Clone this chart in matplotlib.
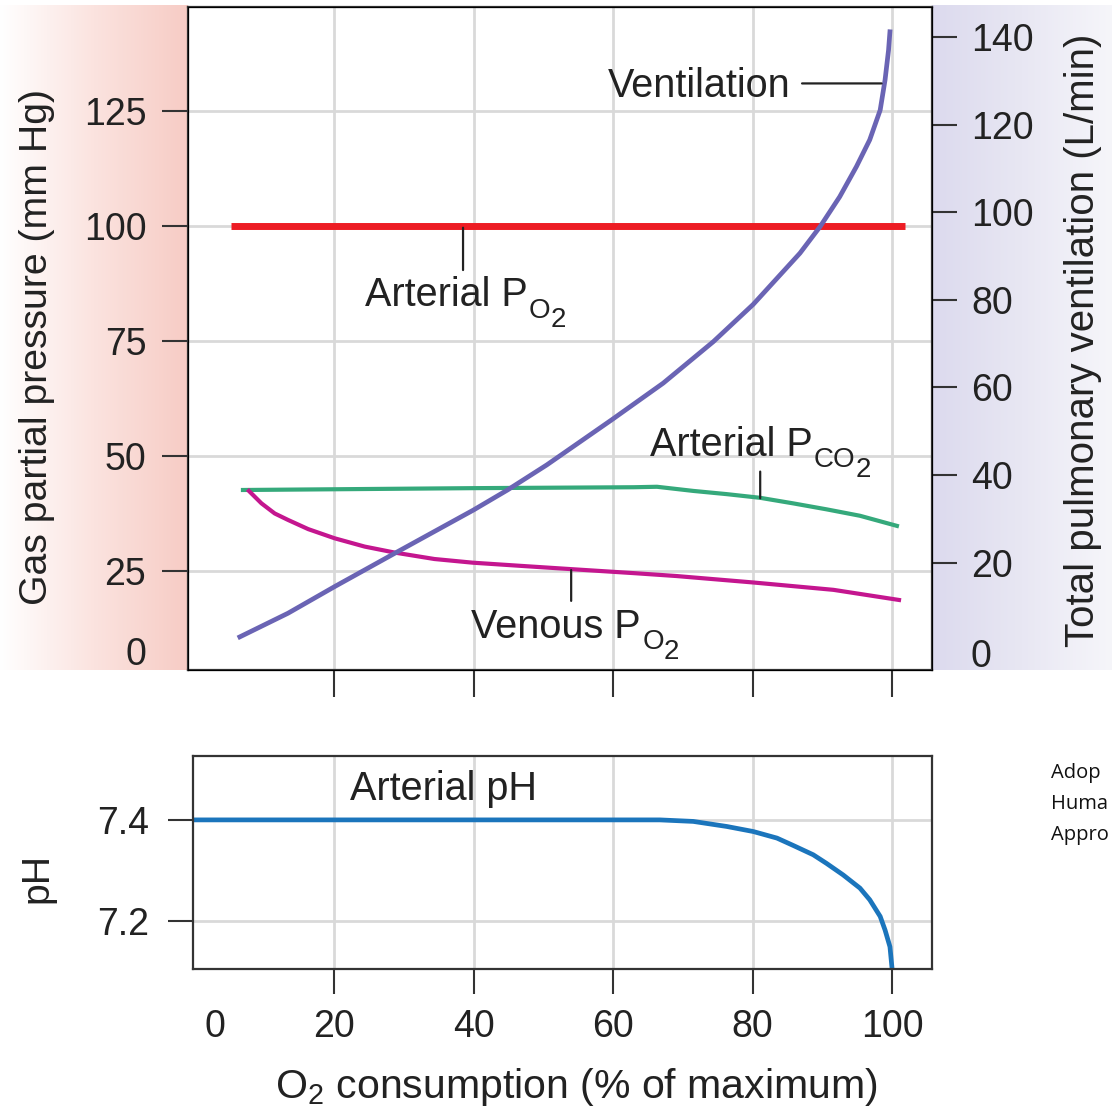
import numpy as np
import matplotlib
matplotlib.use('Agg')
import matplotlib.pyplot as plt
from matplotlib.colors import LinearSegmentedColormap

plt.rcParams['font.family'] = ['Liberation Sans', 'DejaVu Sans']
plt.rcParams['mathtext.fontset'] = 'custom'
plt.rcParams['mathtext.rm'] = 'Liberation Sans'
plt.rcParams['mathtext.it'] = 'Liberation Sans'
plt.rcParams['mathtext.default'] = 'regular'

# values
vent_x = [6.5, 13.4, 20.1, 28.7, 40.0, 44.9, 50.5, 59.8, 67.2, 74.4, 80.1, 86.8,
          89.7, 92.5, 94.9, 96.8, 98.3, 99.0, 99.5, 99.7]
vent_y = [3.0, 8.4, 14.5, 22.1, 32.0, 36.6, 42.3, 52.6, 61.0, 70.5, 79.0, 90.7,
          96.8, 103.6, 110.5, 116.6, 123.4, 130.3, 137.1, 141.3]

apo2_x = [5.3, 101.8]
apo2_y = [100, 100]

pco2_x = [6.95, 40.0, 63.0, 66.3, 71.5, 76.3, 81.1, 85.8, 90.6, 95.4, 100.7]
pco2_y = [42.6, 43.0, 43.2, 43.3, 42.4, 41.7, 40.9, 39.7, 38.4, 37.0, 34.8]

vpo2_x = [7.8, 9.6, 11.5, 13.4, 16.3, 20.1, 24.4, 28.7, 34.4, 39.9, 46.9, 54.0,
          63.3, 69.1, 80.1, 91.6, 101.0]
vpo2_y = [42.4, 39.7, 37.5, 36.1, 34.1, 32.1, 30.3, 29.0, 27.6, 26.8, 26.1, 25.4,
          24.5, 23.9, 22.5, 20.9, 18.7]

ph_x = [0, 20, 40, 60, 66.7, 71.5, 76.3, 80.1, 83.5, 85.9, 88.7, 90.6, 93.0,
        95.4, 96.8, 98.3, 99.0, 99.7, 100.0]
ph_y = [7.4, 7.4, 7.4, 7.4, 7.4, 7.397, 7.387, 7.377, 7.364, 7.349, 7.331, 7.314,
        7.291, 7.265, 7.242, 7.209, 7.182, 7.149, 7.106]

x_ticks = [20, 40, 60, 80, 100]
gas_ticks = [25, 50, 75, 100, 125]
vent_ticks = [20, 40, 60, 80, 100, 120, 140]
ph_ticks = [7.2, 7.4]

W, H = 1112, 1108
fig = plt.figure(figsize=(W / 100, H / 100), dpi=100)

def px_axes(x0, y0, x1, y1):
    return fig.add_axes([x0 / W, 1 - y1 / H, (x1 - x0) / W, (y1 - y0) / H])

# gradient side panels
pink = LinearSegmentedColormap.from_list('pink', ['#ffffff', '#fbe3df', '#f7ccc5'])
lav = LinearSegmentedColormap.from_list('lav', ['#dcdaee', '#e8e7f3', '#f6f6fa'])
bg1 = px_axes(0, 5, 188, 670)
bg1.imshow(np.linspace(0, 1, 256)[None, :], cmap=pink, aspect='auto')
bg1.axis('off')
bg2 = px_axes(932, 5, W, 670)
bg2.imshow(np.linspace(0, 1, 256)[None, :], cmap=lav, aspect='auto')
bg2.axis('off')

dark = '#333333'
txt = '#222222'
grid_c = '#d9d9d9'
tick_fs = 27
ann_fs = 28.5
sub_fs = 20

def sub_label(ax, x, y, main, sub, subsub):
    # "P" with subscript gas name and a further lowered "2"
    t = ax.text(x, y, main, fontsize=ann_fs, ha='left', va='baseline', color=txt)
    s1 = ax.annotate(sub, xy=(1, y), xycoords=(t, 'data'), xytext=(1, -8),
                     textcoords='offset points', fontsize=sub_fs, ha='left',
                     va='baseline', color=txt)
    ax.annotate(subsub, xy=(1, y), xycoords=(s1, 'data'), xytext=(0, -15),
                textcoords='offset points', fontsize=sub_fs, ha='left',
                va='baseline', color=txt)

# top panel
ax1 = px_axes(188, 7.3, 932, 670)
ax1.set_xlim(-0.93, 105.73)
ax1.set_ylim(3.48, 147.5)
ax1.set_axisbelow(True)
ax1.set_xticks(x_ticks)
ax1.set_xticklabels([])
ax1.set_yticks(gas_ticks)
ax1.set_yticklabels([str(t) for t in gas_ticks])
ax1.grid(True, color=grid_c, lw=2)
ax1.tick_params(axis='y', length=19, width=1.5, color=dark, pad=11,
                labelsize=tick_fs, labelcolor=txt)
ax1.tick_params(axis='x', length=19.5, width=1.5, color=dark)
for s in ax1.spines.values():
    s.set_color(dark)
    s.set_linewidth(1.6)

ax1.plot(apo2_x, apo2_y, color='#ed1c24', lw=5, solid_capstyle='butt')
ax1.plot(pco2_x, pco2_y, color='#35a97b', lw=3)
ax1.plot(vpo2_x, vpo2_y, color='#c4168f', lw=3)

ax2 = ax1.twinx()
ax2.set_ylim(-4.57, 146.9)
ax2.set_yticks(vent_ticks)
ax2.set_yticklabels([str(t) for t in vent_ticks])
ax2.tick_params(axis='y', length=18, width=1.5, color=dark, pad=10,
                labelsize=tick_fs, labelcolor=txt)
ax2.plot(vent_x, vent_y, color='#6a64b4', lw=3.4)

# "0" labels without tick marks
fig.text(146 / W, 1 - 655 / H, '0', fontsize=tick_fs, ha='right', va='center', color=txt)
fig.text(971 / W, 1 - 657 / H, '0', fontsize=tick_fs, ha='left', va='center', color=txt)

# annotations on top panel
line_kw = dict(arrowstyle='-', lw=1.6, color=txt, shrinkA=0, shrinkB=0)
ax2.text(85.4, 126.5, 'Ventilation', fontsize=ann_fs, ha='right', va='baseline', color=txt)
ax2.annotate('', xy=(98.5, 129.5), xytext=(87.1, 129.5), arrowprops=line_kw)
sub_label(ax1, 24.4, 82.5, 'Arterial P', 'O', '2')
ax1.annotate('', xy=(38.5, 99.6), xytext=(38.5, 90.4), arrowprops=line_kw)
sub_label(ax1, 65.3, 50.0, 'Arterial P', 'CO', '2')
ax1.annotate('', xy=(81.1, 46.6), xytext=(81.1, 40.8), arrowprops=line_kw)
sub_label(ax1, 39.7, 10.4, 'Venous P', 'O', '2')
ax1.annotate('', xy=(54.0, 25.2), xytext=(54.0, 18.5), arrowprops=line_kw)

# bottom panel
ax3 = px_axes(193.3, 755.7, 932.3, 969)
ax3.set_xlim(-0.17, 105.77)
ax3.set_ylim(7.105, 7.527)
ax3.set_axisbelow(True)
ax3.set_xticks(x_ticks)
ax3.set_xticklabels([str(t) for t in x_ticks])
ax3.set_yticks(ph_ticks)
ax3.set_yticklabels([str(t) for t in ph_ticks])
ax3.grid(True, color=grid_c, lw=2)
ax3.tick_params(axis='y', length=18, width=1.5, color=dark, pad=14,
                labelsize=tick_fs, labelcolor=txt)
ax3.tick_params(axis='x', length=18, width=1.5, color=dark, pad=11,
                labelsize=tick_fs, labelcolor=txt)
for s in ax3.spines.values():
    s.set_color(dark)
    s.set_linewidth(1.6)
ax3.plot(ph_x, ph_y, color='#1b75bc', lw=3.4)
ax3.text(22.3, 7.44, 'Arterial pH', fontsize=ann_fs, ha='left', va='baseline', color=txt)
fig.text(215 / W, 1 - 1037 / H, '0', fontsize=tick_fs, ha='center', va='baseline', color=txt)

# axis titles
fig.text(37 / W, 1 - 347 / H, 'Gas partial pressure (mm Hg)', fontsize=28.3,
         rotation=90, ha='center', va='center', color=txt)
fig.text(1083 / W, 1 - 340 / H, 'Total pulmonary ventilation (L/min)', fontsize=29,
         rotation=90, ha='center', va='center', color=txt)
fig.text(37 / W, 1 - 878 / H, 'pH', fontsize=28.3, rotation=90,
         ha='center', va='center', color=txt)
fig.text(576 / W, 1 - 1098 / H, r'O$_2$ consumption (% of maximum)', fontsize=29.5,
         ha='center', va='baseline', color=txt)

# source note, only the part visible in the reference
for i, line in enumerate(['Adop', 'Huma', 'Appro']):
    fig.text(1051 / W, 1 - (778 + 31 * i) / H, line, fontsize=14.5,
             family=['Open Sans', 'DejaVu Sans'], ha='left', va='baseline', color='#111111')

fig.savefig('out.png', dpi=100)
